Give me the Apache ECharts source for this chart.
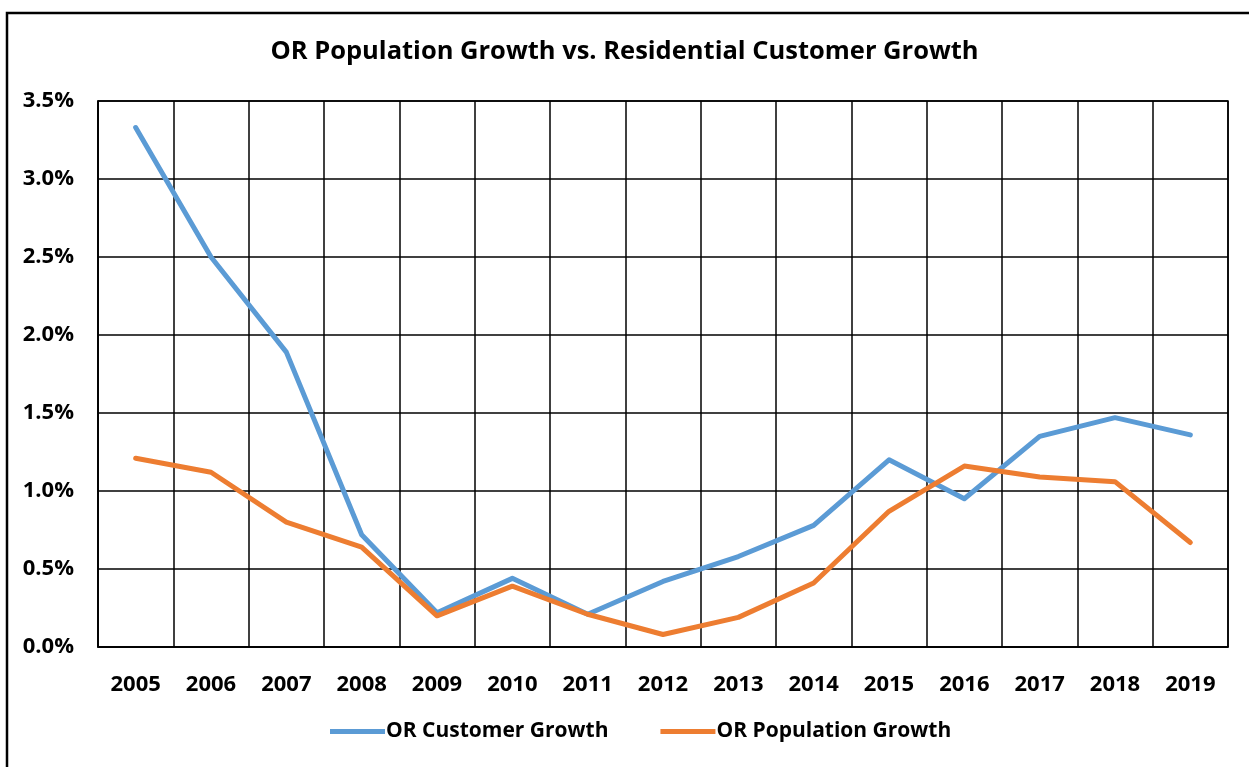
<!DOCTYPE html>
<html><head><meta charset="utf-8">
<script src="https://cdn.jsdelivr.net/npm/echarts@6/dist/echarts.min.js"></script>
<style>html,body{margin:0;padding:0;background:#fff;overflow:hidden}#c{width:1249px;height:767px}</style>
</head><body><div id="c"></div>
<script>
const years = ['2005','2006','2007','2008','2009','2010','2011','2012','2013','2014','2015','2016','2017','2018','2019'];
const customerGrowth = [3.33,2.50,1.89,0.72,0.22,0.44,0.21,0.42,0.58,0.78,1.20,0.95,1.35,1.47,1.36];
const populationGrowth = [1.21,1.12,0.80,0.64,0.20,0.39,0.21,0.08,0.19,0.41,0.87,1.16,1.09,1.06,0.67];
const yTicks = [0,0.5,1.0,1.5,2.0,2.5,3.0,3.5];
const FONT = '"Open Sans", Lato, sans-serif';
const chart = echarts.init(document.getElementById('c'));
chart.setOption({
  animation:false,
  backgroundColor:'#fff',
  graphic:[{type:'rect',shape:{x:7,y:13,width:1300,height:800},style:{fill:'none',stroke:'#000',lineWidth:2.5},z:-1}],
  title:{text:'OR Population Growth vs. Residential Customer Growth',left:'center',top:34,
    textStyle:{fontFamily:FONT,fontWeight:'bold',fontSize:25.5,color:'#000'}},
  grid:{left:98,right:21,top:101,bottom:120,show:true,borderColor:'#000',borderWidth:1.5},
  legend:{bottom:20,left:325,itemWidth:55,itemHeight:5,itemGap:52,icon:'rect',
    textStyle:{fontFamily:FONT,fontWeight:'bold',fontSize:21,color:'#000',padding:[0,0,0,-4]},
    data:['OR Customer Growth','OR Population Growth']},
  xAxis:{type:'category',data:years,boundaryGap:true,
    axisLine:{lineStyle:{color:'#000',width:1.5}},axisTick:{show:false},
    axisLabel:{fontFamily:FONT,fontWeight:'bold',fontSize:22,color:'#000',margin:27},
    splitLine:{show:true,lineStyle:{color:'#000',width:1.5}}},
  yAxis:{type:'value',min:yTicks[0],max:yTicks[yTicks.length-1],interval:0.5,
    axisLine:{show:true,lineStyle:{color:'#000',width:1.5}},axisTick:{show:false},
    axisLabel:{fontFamily:FONT,fontWeight:'bold',fontSize:22,color:'#000',margin:24,
      formatter:v=>v.toFixed(1)+'%'},
    splitLine:{show:true,lineStyle:{color:'#000',width:1.5}}},
  series:[
    {name:'OR Customer Growth',type:'line',data:customerGrowth,symbol:'none',
     lineStyle:{width:5,color:'#5B9BD5',cap:'round',join:'round'},itemStyle:{color:'#5B9BD5'}},
    {name:'OR Population Growth',type:'line',data:populationGrowth,symbol:'none',
     lineStyle:{width:5,color:'#ED7D31',cap:'round',join:'round'},itemStyle:{color:'#ED7D31'}}
  ]
});
</script></body></html>
